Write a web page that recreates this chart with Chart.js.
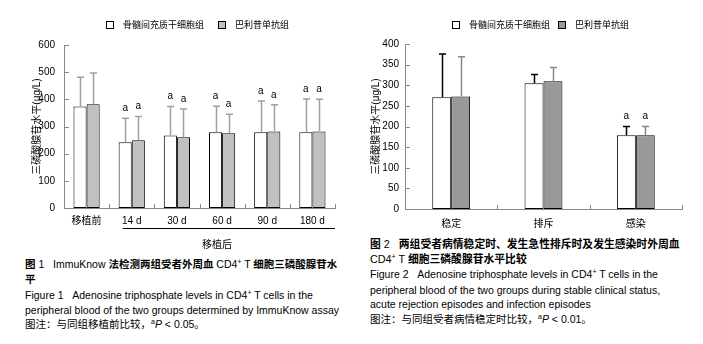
<!DOCTYPE html>
<html>
<head>
<meta charset="utf-8">
<script src="https://cdn.jsdelivr.net/npm/chart.js@4.4.0/dist/chart.umd.min.js"></script>
<style>
  body { margin: 0; background: #fff; width: 703px; height: 344px; position: relative; overflow: hidden;
         font-family: "Liberation Sans", "Noto Sans CJK SC", sans-serif; color: #000; }
  canvas { position: absolute; }
  .lg { position: absolute; font-family: "Noto Sans CJK SC", sans-serif; font-size: 9px; line-height: 10px; white-space: nowrap; }
  .box { display: inline-block; width: 6px; height: 6px; border: 1px solid #000; vertical-align: -1px; margin-right: 9px; }
  .ln { position: absolute; white-space: nowrap; font-size: 10.5px; line-height: 12px; }
  .ln.cn { font-weight: bold; }
  .ln.cn .en { font-weight: normal; }
  .ln.wide { font-size: 10.8px; }
  sup { font-size: 7px; vertical-align: 4px; line-height: 0; }
</style>
</head>
<body>
<canvas id="c1" width="350" height="250" style="left:0;top:0"></canvas>
<canvas id="c2" width="353" height="232" style="left:350px;top:0"></canvas>
<div id="lg1"></div>
<div id="lg2"></div>

<div class="ln cn" style="left:25px;top:258px">图 <span class="en">1&nbsp;&nbsp;&nbsp;ImmuKnow </span>法检测两组受者外周血<span class="en"> CD4<sup>+</sup> T </span>细胞三磷酸腺苷水</div>
<div class="ln cn" style="left:25px;top:273px">平</div>
<div class="ln" style="left:25px;top:289px">Figure 1&nbsp;&nbsp;&nbsp;Adenosine triphosphate levels in CD4<sup>+</sup> T cells in the</div>
<div class="ln" style="left:25px;top:304px">peripheral blood of the two groups determined by ImmuKnow assay</div>
<div class="ln" style="left:25px;top:318px">图注：与同组移植前比较，<sup>a</sup><i>P</i> &lt; 0.05。</div>

<div class="ln cn wide" style="left:370px;top:238px">图 <span class="en">2&nbsp;&nbsp;&nbsp;</span>两组受者病情稳定时、发生急性排斥时及发生感染时外周血</div>
<div class="ln cn wide" style="left:370px;top:253px"><span class="en">CD4<sup>+</sup> T </span>细胞三磷酸腺苷水平比较</div>
<div class="ln" style="left:370px;top:268px">Figure 2&nbsp;&nbsp;&nbsp;Adenosine triphosphate levels in CD4<sup>+</sup> T cells in the</div>
<div class="ln" style="left:370px;top:284px">peripheral blood of the two groups during stable clinical status,</div>
<div class="ln" style="left:370px;top:298px">acute rejection episodes and infection episodes</div>
<div class="ln" style="left:370px;top:313px">图注：与同组受者病情稳定时比较，<sup>a</sup><i>P</i> &lt; 0.01。</div>

<script>
// groups
const groupNames = ["骨髓间充质干细胞组", "巴利昔单抗组"];
const yTitle = "三磷酸腺苷水平(μg/L)";

// figure 1: time after transplant
const timeLabels = ["移植前", "14 d", "30 d", "60 d", "90 d", "180 d"];
const mscMean1 = [374, 242, 267, 279, 279, 279];
const mscSd1 = [107, 88, 107, 96, 115, 122];
const basMean1 = [382, 249, 260, 275, 282, 282];
const basSd1 = [115, 88, 104, 70, 98, 118];
const marks1 = ["", "a", "a", "a", "a", "a"];

// figure 2: clinical status
const stateLabels = ["稳定", "排斥", "感染"];
const mscMean2 = [271, 305, 179];
const mscSd2 = [105, 21, 21];
const basMean2 = [273, 310, 179];
const basSd2 = [96, 33, 21];
const marks2 = ["", "", "a"];

Chart.defaults.font.family = "'Liberation Sans', 'Noto Sans CJK SC', sans-serif";
Chart.defaults.color = "#000";

// upper error whiskers + significance letters
const whiskers = {
  id: "whiskers",
  afterDatasetsDraw(chart) {
    const ctx = chart.ctx, y = chart.scales.y;
    chart.data.datasets.forEach((ds, i) => {
      chart.getDatasetMeta(i).data.forEach((bar, j) => {
        const top = y.getPixelForValue(ds.data[j] + ds.sd[j]);
        const x = Math.round(bar.x) + 0.5;
        ctx.save();
        ctx.strokeStyle = ds.whiskerColor;
        ctx.lineWidth = 1.5;
        ctx.beginPath();
        ctx.moveTo(x, bar.y);
        ctx.lineTo(x, top);
        ctx.moveTo(x - 3.5, top);
        ctx.lineTo(x + 3.5, top);
        ctx.stroke();
        if (ds.marks[j]) {
          ctx.fillStyle = "#000";
          ctx.font = "10px 'Liberation Sans'";
          ctx.textAlign = "center";
          ctx.textBaseline = "middle";
          ctx.fillText(ds.marks[j], bar.x, top - 10);
        }
        ctx.restore();
      });
    });
  }
};

// short tick marks pointing into the plot
const innerTicks = {
  id: "innerTicks",
  afterDraw(chart) {
    const { ctx, chartArea: a, scales: { x, y } } = chart;
    const half = (x.getPixelForValue(1) - x.getPixelForValue(0)) / 2;
    ctx.save();
    ctx.strokeStyle = "#888";
    ctx.lineWidth = 1;
    ctx.beginPath();
    y.ticks.forEach(t => {
      const py = Math.round(y.getPixelForValue(t.value)) + 0.5;
      ctx.moveTo(a.left, py);
      ctx.lineTo(a.left + 5, py);
    });
    x.ticks.forEach((t, i) => {
      const px = Math.round(x.getPixelForValue(i) + half) + 0.5;
      ctx.moveTo(px, a.bottom);
      ctx.lineTo(px, a.bottom - 4);
    });
    ctx.stroke();
    ctx.restore();
  }
};

// "移植后" bracket under the post-transplant days
const afterLine = {
  id: "afterLine",
  afterDraw(chart) {
    if (!chart.options.plugins.afterLine) return;
    const { ctx, chartArea: a, scales: { x } } = chart;
    const x0 = x.getPixelForValue(1) - 9;
    const ly = a.bottom + 20.5;
    ctx.save();
    ctx.strokeStyle = "#000";
    ctx.lineWidth = 1;
    ctx.beginPath();
    ctx.moveTo(x0, ly);
    ctx.lineTo(a.right, ly);
    ctx.stroke();
    ctx.fillStyle = "#000";
    ctx.font = "10px 'Noto Sans CJK SC'";
    ctx.textAlign = "center";
    ctx.textBaseline = "middle";
    ctx.fillText(chart.options.plugins.afterLine.text, (x.getPixelForValue(1) + x.getPixelForValue(5)) / 2 - 5, ly + 15.5);
    ctx.restore();
  }
};

function makeChart(id, labels, m1, s1, m2, s2, marks, opt) {
  return new Chart(document.getElementById(id), {
    type: "bar",
    data: {
      labels: labels,
      datasets: [
        { label: groupNames[0], data: m1, sd: s1, marks: marks, backgroundColor: "#ffffff",
          borderColor: "#000", borderWidth: 1, whiskerColor: opt.w1 },
        { label: groupNames[1], data: m2, sd: s2, marks: marks, backgroundColor: opt.grey,
          borderColor: "#000", borderWidth: 1, whiskerColor: opt.w2 }
      ]
    },
    options: {
      responsive: false,
      animation: false,
      layout: { padding: opt.pad },
      datasets: { bar: { categoryPercentage: opt.cat, barPercentage: 1, borderSkipped: false } },
      plugins: { legend: { display: false }, tooltip: { enabled: false }, afterLine: opt.afterLine },
      scales: {
        x: {
          grid: { display: false, drawTicks: false },
          border: { color: "#888", width: 1 },
          ticks: { padding: opt.xpad, font: { size: 10 } },
          afterFit(s) { s.height = opt.xh; }
        },
        y: {
          min: 0, max: opt.max,
          grid: { display: false, drawTicks: false },
          border: { color: "#888", width: 1 },
          ticks: { stepSize: opt.step, padding: opt.ypad, font: { size: 10 } },
          title: { display: true, text: yTitle, font: { size: 10 }, padding: { top: opt.tpad, bottom: 0 } },
          afterFit(s) { s.width = opt.yw; }
        }
      }
    },
    plugins: [whiskers, innerTicks, afterLine]
  });
}

makeChart("c1", timeLabels, mscMean1, mscSd1, basMean1, basSd1, marks1, {
  pad: { top: 45, right: 15, left: 0, bottom: 0 }, xh: 42, yw: 64, max: 600, step: 100,
  cat: 0.58, grey: "#c0c0c0", w1: "#a0a0a0", w2: "#a0a0a0", xpad: 7, ypad: 9, tpad: 31,
  afterLine: { text: "移植后" }
});
makeChart("c2", stateLabels, mscMean2, mscSd2, basMean2, basSd2, marks2, {
  pad: { top: 44, right: 21, left: 0, bottom: 0 }, xh: 23, yw: 55, max: 400, step: 50,
  cat: 0.41, grey: "#999999", w1: "#000000", w2: "#888888", xpad: 9, ypad: 6, tpad: 20,
  afterLine: false
});

// html legends built from the group names
function legend(id, left, gap, fills) {
  const el = document.getElementById(id);
  el.className = "lg";
  el.style.left = left + "px";
  el.style.top = "20px";
  el.innerHTML = groupNames.map((n, i) =>
    '<span class="box" style="background:' + fills[i] + '"></span>' + n
  ).join('<span style="display:inline-block;width:' + gap + 'px"></span>');
}
legend("lg1", 106, 14, ["#fff", "#c0c0c0"]);
legend("lg2", 452, 8, ["#fff", "#999"]);
</script>
</body>
</html>
